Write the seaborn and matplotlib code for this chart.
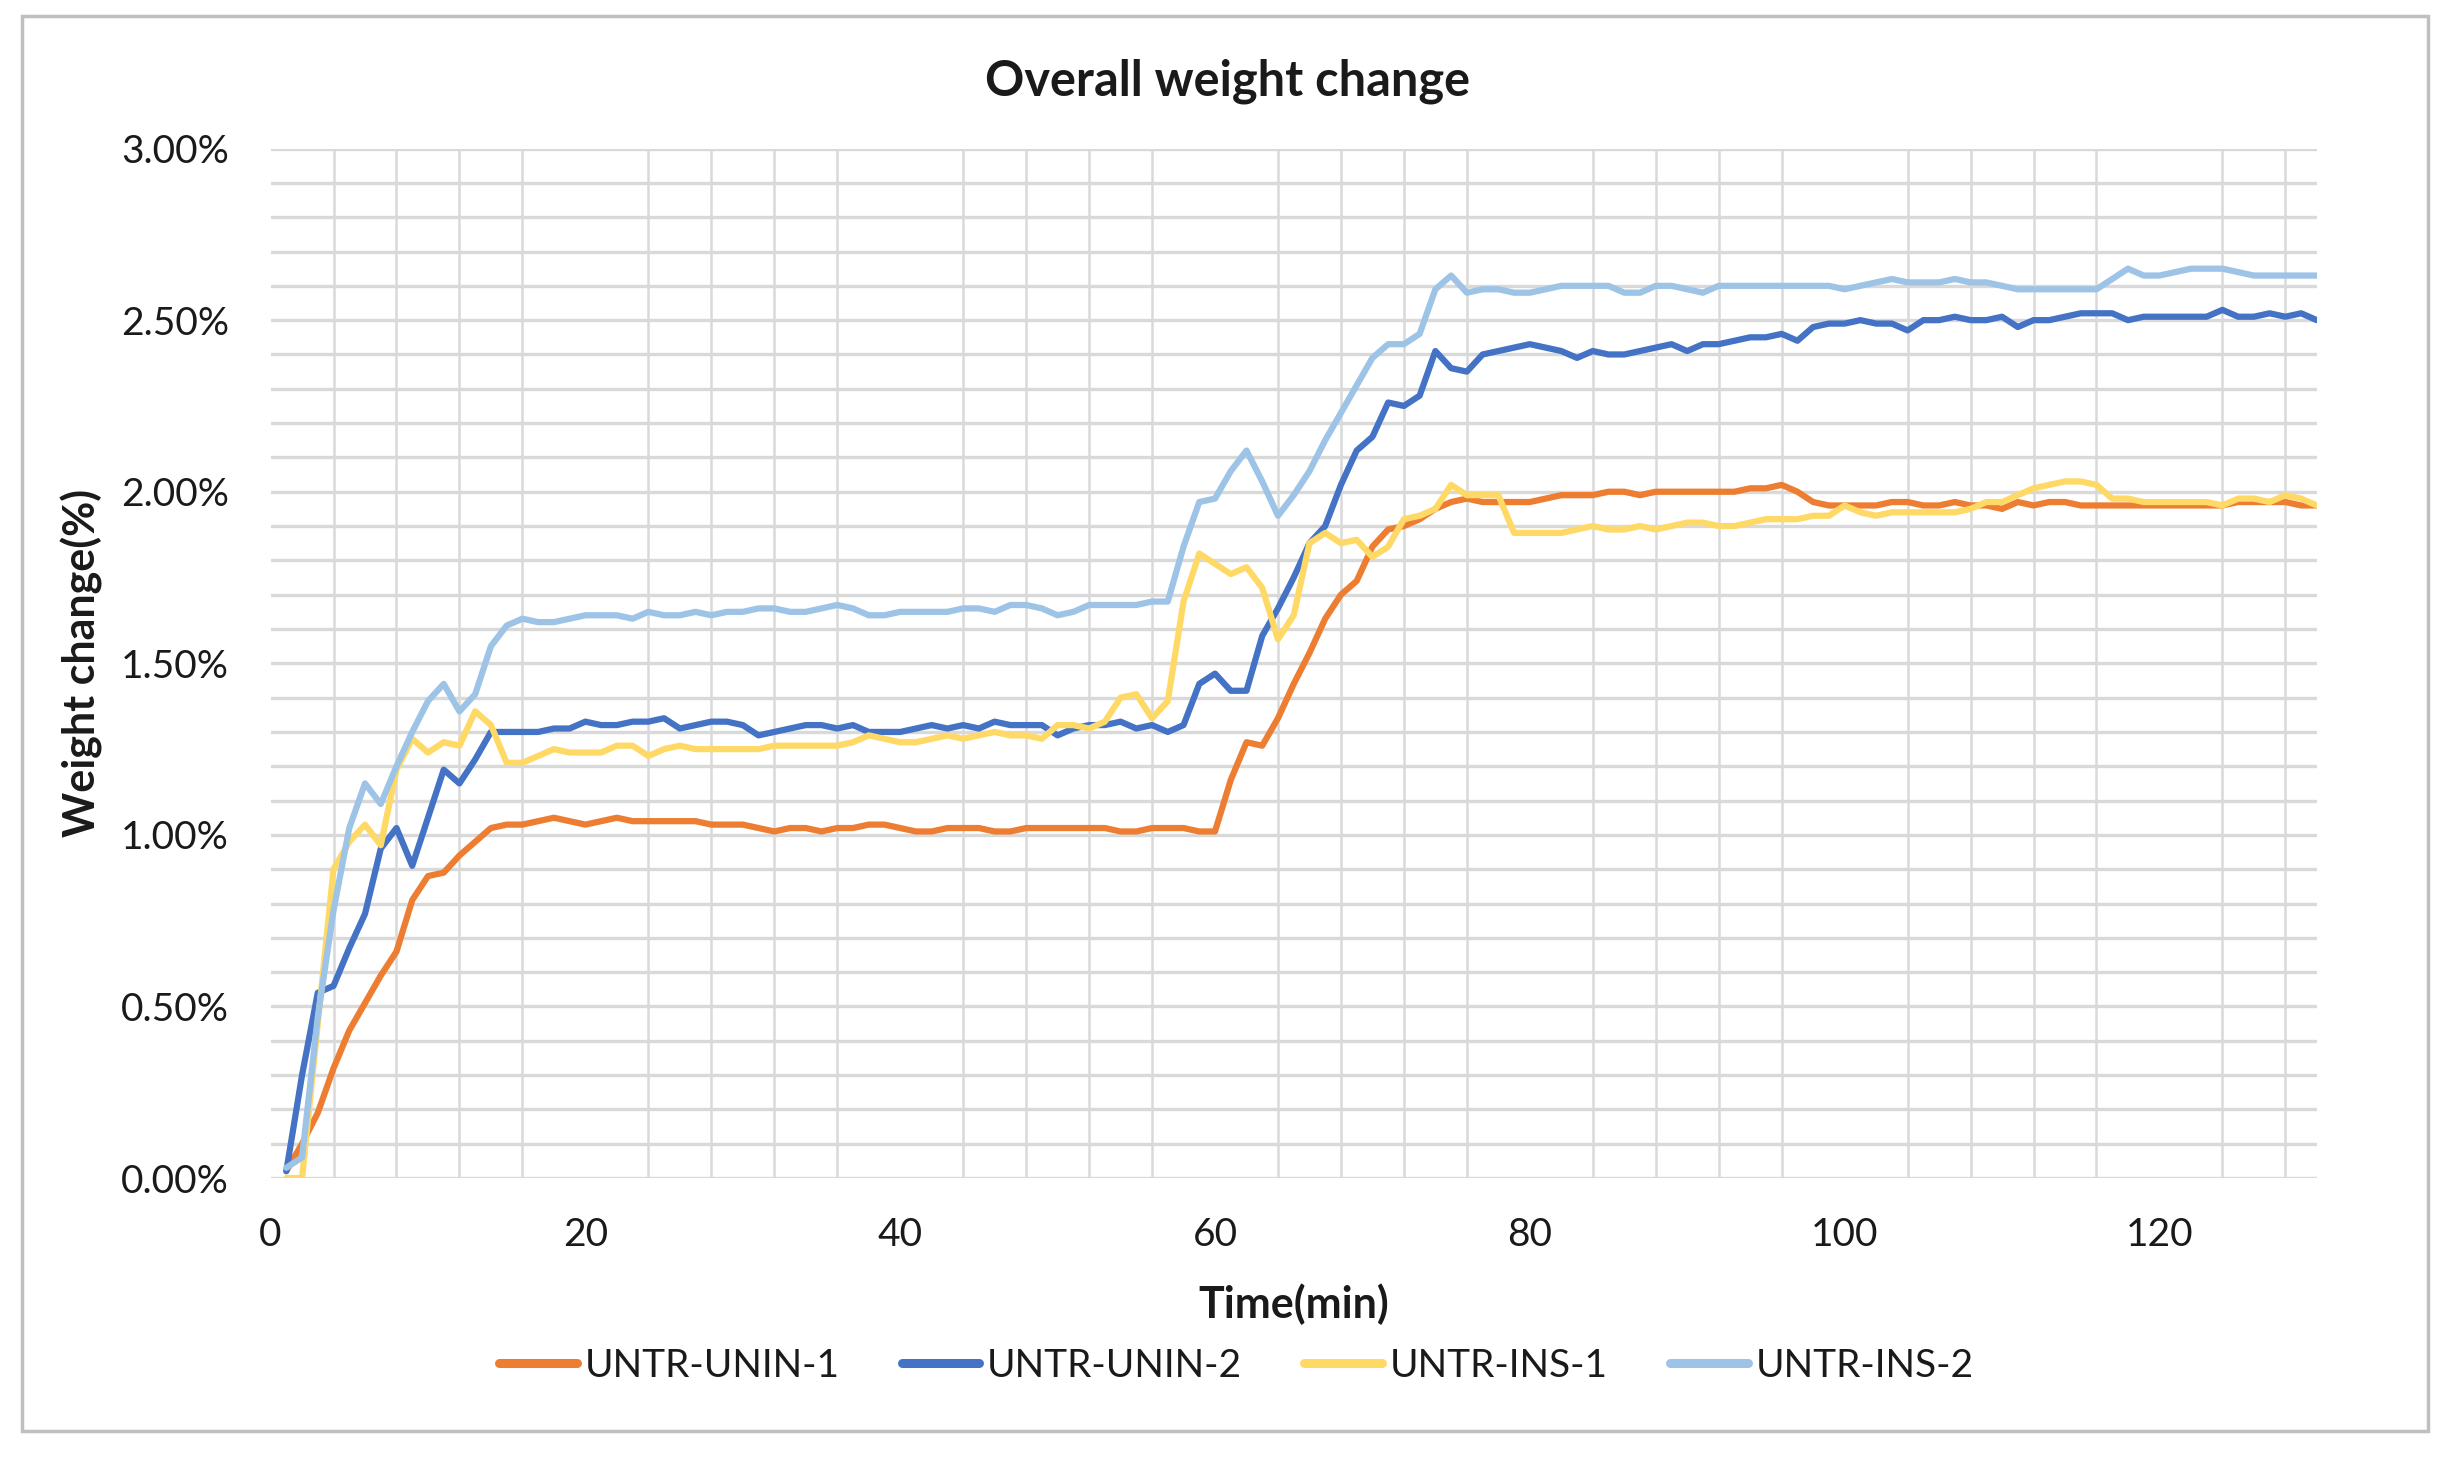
import numpy as np
import pandas as pd
import matplotlib
matplotlib.use("Agg")
import matplotlib.pyplot as plt
from matplotlib.patches import Rectangle
from matplotlib.ticker import MultipleLocator, PercentFormatter
import seaborn as sns

# --- Data (weight change in %, one reading per minute) ---
time_min = list(range(1, 131))

untr_unin_1 = [
    0.02, 0.10, 0.19, 0.32, 0.43, 0.51, 0.59, 0.66, 0.81, 0.88,
    0.89, 0.94, 0.98, 1.02, 1.03, 1.03, 1.04, 1.05, 1.04, 1.03,
    1.04, 1.05, 1.04, 1.04, 1.04, 1.04, 1.04, 1.03, 1.03, 1.03,
    1.02, 1.01, 1.02, 1.02, 1.01, 1.02, 1.02, 1.03, 1.03, 1.02,
    1.01, 1.01, 1.02, 1.02, 1.02, 1.01, 1.01, 1.02, 1.02, 1.02,
    1.02, 1.02, 1.02, 1.01, 1.01, 1.02, 1.02, 1.02, 1.01, 1.01,
    1.16, 1.27, 1.26, 1.34, 1.44, 1.53, 1.63, 1.70, 1.74, 1.84,
    1.89, 1.90, 1.92, 1.95, 1.97, 1.98, 1.97, 1.97, 1.97, 1.97,
    1.98, 1.99, 1.99, 1.99, 2.00, 2.00, 1.99, 2.00, 2.00, 2.00,
    2.00, 2.00, 2.00, 2.01, 2.01, 2.02, 2.00, 1.97, 1.96, 1.96,
    1.96, 1.96, 1.97, 1.97, 1.96, 1.96, 1.97, 1.96, 1.96, 1.95,
    1.97, 1.96, 1.97, 1.97, 1.96, 1.96, 1.96, 1.96, 1.96, 1.96,
    1.96, 1.96, 1.96, 1.96, 1.97, 1.97, 1.97, 1.97, 1.96, 1.96,
]

untr_unin_2 = [
    0.02, 0.30, 0.54, 0.56, 0.67, 0.77, 0.96, 1.02, 0.91, 1.05,
    1.19, 1.15, 1.22, 1.30, 1.30, 1.30, 1.30, 1.31, 1.31, 1.33,
    1.32, 1.32, 1.33, 1.33, 1.34, 1.31, 1.32, 1.33, 1.33, 1.32,
    1.29, 1.30, 1.31, 1.32, 1.32, 1.31, 1.32, 1.30, 1.30, 1.30,
    1.31, 1.32, 1.31, 1.32, 1.31, 1.33, 1.32, 1.32, 1.32, 1.29,
    1.31, 1.32, 1.32, 1.33, 1.31, 1.32, 1.30, 1.32, 1.44, 1.47,
    1.42, 1.42, 1.58, 1.66, 1.75, 1.85, 1.90, 2.02, 2.12, 2.16,
    2.26, 2.25, 2.28, 2.41, 2.36, 2.35, 2.40, 2.41, 2.42, 2.43,
    2.42, 2.41, 2.39, 2.41, 2.40, 2.40, 2.41, 2.42, 2.43, 2.41,
    2.43, 2.43, 2.44, 2.45, 2.45, 2.46, 2.44, 2.48, 2.49, 2.49,
    2.50, 2.49, 2.49, 2.47, 2.50, 2.50, 2.51, 2.50, 2.50, 2.51,
    2.48, 2.50, 2.50, 2.51, 2.52, 2.52, 2.52, 2.50, 2.51, 2.51,
    2.51, 2.51, 2.51, 2.53, 2.51, 2.51, 2.52, 2.51, 2.52, 2.50,
]

untr_ins_1 = [
    0.00, 0.00, 0.45, 0.90, 0.98, 1.03, 0.97, 1.19, 1.28, 1.24,
    1.27, 1.26, 1.36, 1.32, 1.21, 1.21, 1.23, 1.25, 1.24, 1.24,
    1.24, 1.26, 1.26, 1.23, 1.25, 1.26, 1.25, 1.25, 1.25, 1.25,
    1.25, 1.26, 1.26, 1.26, 1.26, 1.26, 1.27, 1.29, 1.28, 1.27,
    1.27, 1.28, 1.29, 1.28, 1.29, 1.30, 1.29, 1.29, 1.28, 1.32,
    1.32, 1.31, 1.33, 1.40, 1.41, 1.34, 1.39, 1.68, 1.82, 1.79,
    1.76, 1.78, 1.72, 1.57, 1.64, 1.85, 1.88, 1.85, 1.86, 1.81,
    1.84, 1.92, 1.93, 1.95, 2.02, 1.99, 1.99, 1.99, 1.88, 1.88,
    1.88, 1.88, 1.89, 1.90, 1.89, 1.89, 1.90, 1.89, 1.90, 1.91,
    1.91, 1.90, 1.90, 1.91, 1.92, 1.92, 1.92, 1.93, 1.93, 1.96,
    1.94, 1.93, 1.94, 1.94, 1.94, 1.94, 1.94, 1.95, 1.97, 1.97,
    1.99, 2.01, 2.02, 2.03, 2.03, 2.02, 1.98, 1.98, 1.97, 1.97,
    1.97, 1.97, 1.97, 1.96, 1.98, 1.98, 1.97, 1.99, 1.98, 1.96,
]

untr_ins_2 = [
    0.03, 0.06, 0.47, 0.78, 1.02, 1.15, 1.09, 1.20, 1.30, 1.39,
    1.44, 1.36, 1.41, 1.55, 1.61, 1.63, 1.62, 1.62, 1.63, 1.64,
    1.64, 1.64, 1.63, 1.65, 1.64, 1.64, 1.65, 1.64, 1.65, 1.65,
    1.66, 1.66, 1.65, 1.65, 1.66, 1.67, 1.66, 1.64, 1.64, 1.65,
    1.65, 1.65, 1.65, 1.66, 1.66, 1.65, 1.67, 1.67, 1.66, 1.64,
    1.65, 1.67, 1.67, 1.67, 1.67, 1.68, 1.68, 1.84, 1.97, 1.98,
    2.06, 2.12, 2.03, 1.93, 1.99, 2.06, 2.15, 2.23, 2.31, 2.39,
    2.43, 2.43, 2.46, 2.59, 2.63, 2.58, 2.59, 2.59, 2.58, 2.58,
    2.59, 2.60, 2.60, 2.60, 2.60, 2.58, 2.58, 2.60, 2.60, 2.59,
    2.58, 2.60, 2.60, 2.60, 2.60, 2.60, 2.60, 2.60, 2.60, 2.59,
    2.60, 2.61, 2.62, 2.61, 2.61, 2.61, 2.62, 2.61, 2.61, 2.60,
    2.59, 2.59, 2.59, 2.59, 2.59, 2.59, 2.62, 2.65, 2.63, 2.63,
    2.64, 2.65, 2.65, 2.65, 2.64, 2.63, 2.63, 2.63, 2.63, 2.63,
]

series_names = ["UNTR-UNIN-1", "UNTR-UNIN-2", "UNTR-INS-1", "UNTR-INS-2"]
series_values = [untr_unin_1, untr_unin_2, untr_ins_1, untr_ins_2]
series_colors = ["#ED7D31", "#4472C4", "#FFD966", "#9DC3E6"]

# long-form table for seaborn
frames = []
for name, vals in zip(series_names, series_values):
    frames.append(pd.DataFrame({"time": time_min, "change": vals, "sample": name}))
df = pd.concat(frames, ignore_index=True)

# --- Style ---
sns.set_style("white")
plt.rcParams["font.family"] = ["Lato", "DejaVu Sans"]

fig = plt.figure(figsize=(24.53, 14.58), dpi=100)
ax = fig.add_axes([0.1103, 0.192, 0.8342, 0.7061])

sns.lineplot(
    data=df, x="time", y="change", hue="sample",
    hue_order=series_names, palette=series_colors,
    linewidth=4.5, ax=ax, legend=True,
)
for line in ax.lines:
    line.set_solid_joinstyle("round")
    line.set_solid_capstyle("round")

ax.set_xlim(0, 130)
ax.set_ylim(0, 3.0)
ax.xaxis.set_major_locator(MultipleLocator(20))
ax.xaxis.set_minor_locator(MultipleLocator(4))
ax.yaxis.set_major_locator(MultipleLocator(0.5))
ax.yaxis.set_minor_locator(MultipleLocator(0.1))
ax.yaxis.set_major_formatter(PercentFormatter(xmax=100, decimals=2))

ax.grid(which="minor", axis="x", color="#d9d9d9", linewidth=1.8)
ax.grid(which="major", axis="x", visible=False)
ax.grid(which="both", axis="y", color="#d9d9d9", linewidth=2.4)
ax.set_axisbelow(True)
for s in ax.spines.values():
    s.set_visible(False)

ax.tick_params(axis="both", which="both", length=0, labelsize=28)
ax.tick_params(axis="y", pad=30)
ax.tick_params(axis="x", pad=28)
for lab in ax.get_xticklabels() + ax.get_yticklabels():
    lab.set_color("#1a1a1a")

ax.set_xlabel("Time(min)", fontsize=31, fontweight="bold", color="#1a1a1a")
ax.xaxis.set_label_coords(0.5, -0.102)
ax.set_ylabel("Weight change(%)", fontsize=31, fontweight="bold", color="#1a1a1a")
ax.yaxis.set_label_coords(-0.082, 0.5)

fig.text(0.5006, 0.944, "Overall weight change", ha="center", va="center",
         fontsize=35, fontweight="bold", color="#1a1a1a")

sns.move_legend(
    ax, "center", bbox_to_anchor=(0.504, 0.0633), bbox_transform=fig.transFigure,
    ncol=4, frameon=False, title=None, fontsize=28,
    handlelength=2.0, handletextpad=0.2, columnspacing=1.6,
)
leg = ax.get_legend()
for h in leg.legend_handles:
    h.set_linewidth(6.5)
for t in leg.get_texts():
    t.set_color("#1a1a1a")

# chart-area border
fig.patches.append(Rectangle((0.0089, 0.0182), 0.9809, 0.9711, transform=fig.transFigure,
                             fill=False, edgecolor="#bfbfbf", linewidth=2.5))

fig.savefig("out.png", dpi=100, facecolor="white")
